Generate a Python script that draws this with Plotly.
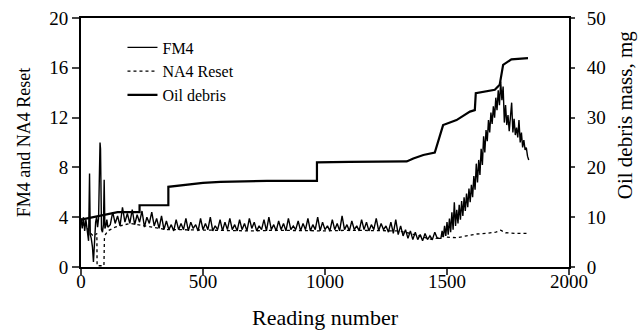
import plotly.graph_objects as go

# ---------------- data ----------------
# FM4 (left axis)
fm4_early_x = [0, 5, 10, 15, 20, 25, 28, 31, 35, 38, 42, 47, 51, 55, 60, 64, 68, 72, 76, 78,
               80, 84, 88, 92, 95, 98, 102, 106, 110]
fm4_early_y = [3.9, 3.1, 4.0, 2.9, 3.8, 3.0, 2.6, 2.1, 7.5, 2.6, 2.3, 1.6, 0.4, 2.2, 3.6, 4.0,
               3.2, 3.9, 9.6, 10.0, 9.5, 3.0, 2.8, 3.4, 7.0, 3.1, 3.3, 3.8, 3.2]
fm4_mid_x = list(range(120, 1461, 10))
fm4_mid_y = [3.4, 4.4, 3.5, 4.1, 3.3, 4.8, 3.6, 4.3, 3.5, 4.6, 3.4, 4.2, 3.6, 4.5, 3.2, 4.0, 3.5, 4.4, 3.3, 3.9, 3.1, 4.1,
             3.0, 3.7, 3.0, 3.4, 2.9, 3.8, 3.0, 3.5, 3.0, 3.9, 2.9, 3.6, 3.1, 3.4, 2.9, 3.9, 3.0, 3.5, 3.0, 4.0, 2.9, 3.3, 3.0, 3.8, 2.9, 3.6, 3.0,
             3.9, 3.0, 3.4, 2.9, 3.8, 3.0, 3.5, 2.9, 3.9, 3.1, 3.6, 2.9, 3.3, 3.0, 3.8, 2.9, 4.0, 3.0, 3.4, 2.9, 3.7, 3.0, 3.5, 2.9, 3.9, 3.0, 3.3, 3.0, 3.7, 2.9,
             3.5, 3.0, 3.9, 2.9, 3.4, 3.0, 4.0, 2.9, 3.6, 3.0, 3.3, 2.9, 3.8, 3.0, 3.5, 2.9, 4.1, 3.0, 3.4, 2.9, 3.7, 3.0, 3.3, 2.9, 3.8, 3.0, 3.6, 2.9, 3.4, 3.0,
             3.9, 2.9, 3.5, 3.0, 3.3, 2.8, 3.6, 2.7, 3.8, 2.6, 3.3, 2.5, 3.0, 2.3, 2.9, 2.2, 2.8, 2.2, 2.6, 2.1, 2.7, 2.2, 2.5, 2.2, 2.8, 2.3]
fm4_late_x = list(range(1475, 1836, 5))
fm4_late_y = [2.3, 2.9, 2.4, 3.3, 2.5, 3.6, 2.6, 3.9, 2.8, 4.4, 3.0, 5.2, 3.3, 4.6, 3.5, 5.0, 3.8, 5.3, 4.1, 5.6,
              4.5, 5.9, 4.8, 6.3, 5.2, 6.6, 5.6, 7.3, 6.2, 8.3, 6.8, 8.6, 7.4, 9.5, 8.2, 10.5, 9.2, 11.0, 10.1, 11.8,
              10.8, 12.4, 11.5, 12.9, 12.0, 13.6, 12.6, 14.2, 13.0, 14.9, 13.4, 14.5, 11.6, 13.0, 11.4, 12.2, 10.9, 12.0, 13.2, 10.8,
              11.9, 10.6, 11.2, 10.4, 11.8, 10.0, 10.8, 9.6, 10.2, 9.4, 9.6, 8.9, 8.6]

# NA4 Reset (left axis)
na4_early_x = [0, 10, 20, 30, 40, 50, 60, 65, 66, 94, 96, 100, 110, 120, 140, 160, 180, 200, 230,
               260, 300, 350, 400, 500, 600, 700, 800, 900, 1000, 1100, 1200, 1300, 1350, 1400, 1440, 1470]
na4_early_y = [3.9, 3.4, 3.2, 3.0, 2.7, 2.5, 2.6, 2.7, 0.1, 0.1, 2.3, 2.6, 2.9, 3.0, 3.2, 3.3, 3.4, 3.5, 3.4,
               3.3, 3.2, 3.0, 3.0, 2.95, 2.95, 2.9, 2.95, 2.9, 2.9, 2.95, 2.9, 2.9, 2.7, 2.4, 2.2, 2.4]
na4_late_x = [1480, 1500, 1540, 1580, 1620, 1660, 1700, 1720, 1740, 1780, 1826]
na4_late_y = [2.5, 2.4, 2.35, 2.5, 2.65, 2.7, 2.8, 2.95, 2.75, 2.7, 2.7]

# Oil debris mass, mg (right axis)
oil_x = [0, 30, 60, 100, 150, 200, 240, 240, 358, 358, 407, 500, 571, 762, 967, 967, 1100, 1335,
         1362, 1403, 1450, 1484, 1512, 1539, 1594, 1614, 1618, 1696, 1716, 1730, 1764, 1832]
oil_y = [9.5, 9.8, 10.0, 10.5, 11.0, 11.0, 11.0, 12.4, 12.4, 16.1, 16.4, 16.9, 17.1, 17.3, 17.3, 21.0,
         21.1, 21.2, 21.8, 22.5, 23.0, 28.5, 29.0, 29.5, 31.2, 31.5, 34.9, 35.6, 36.6, 40.6, 41.7, 41.95]

x_ticks = [0, 500, 1000, 1500, 2000]
y_ticks = [0, 4, 8, 12, 16, 20]
y2_ticks = [0, 10, 20, 30, 40, 50]

# ---------------- figure ----------------
FONT = "Liberation Serif"
fig = go.Figure()
fig.add_trace(go.Scatter(x=fm4_early_x + fm4_mid_x + fm4_late_x,
                         y=fm4_early_y + fm4_mid_y + fm4_late_y,
                         mode="lines", name="FM4", line=dict(color="black", width=1.4)))
fig.add_trace(go.Scatter(x=na4_early_x + na4_late_x, y=na4_early_y + na4_late_y,
                         mode="lines", name="NA4 Reset",
                         line=dict(color="black", width=1.3, dash="dot")))
fig.add_trace(go.Scatter(x=oil_x, y=oil_y, mode="lines", name="Oil debris", yaxis="y2",
                         line=dict(color="black", width=2.2)))

fig.update_layout(
    width=644, height=330,
    margin=dict(l=81, r=75, t=18, b=63, autoexpand=False),
    paper_bgcolor="white", plot_bgcolor="white",
    font=dict(family=FONT, color="black", size=19),
    showlegend=True,
    legend=dict(x=0.085, y=0.95, xanchor="left", yanchor="top",
                bgcolor="rgba(0,0,0,0)", font=dict(size=16, family=FONT),
                tracegroupgap=0),
    xaxis=dict(range=[0, 2000], tickvals=x_ticks, ticks="outside", ticklen=6, tickwidth=2,
               showline=True, linewidth=2, linecolor="black", mirror=True,
               showgrid=False, zeroline=False, automargin=False,
               ticklabelstandoff=-10,
               tickfont=dict(size=19, family=FONT),
               title=dict(text="Reading number", font=dict(size=22, family=FONT), standoff=20)),
    yaxis=dict(range=[0, 20], tickvals=y_ticks, ticks="outside", ticklen=7, tickwidth=2,
               showline=True, linewidth=2, linecolor="black",
               showgrid=False, zeroline=False, automargin=False,
               tickfont=dict(size=19, family=FONT),
               title=dict(text="FM4 and NA4 Reset", font=dict(size=18, family=FONT), standoff=14)),
    yaxis2=dict(range=[0, 50], tickvals=y2_ticks, overlaying="y", side="right",
                ticks="outside", ticklen=4, tickwidth=2, ticklabelstandoff=8,
                showline=True, linewidth=2, linecolor="black",
                showgrid=False, zeroline=False, automargin=False,
                tickfont=dict(size=19, family=FONT)),
    annotations=[dict(text="Oil debris mass, mg", textangle=-90, showarrow=False,
                      xref="paper", yref="paper", x=1.115, y=0.61,
                      xanchor="center", yanchor="middle",
                      font=dict(size=21, family=FONT, color="black"))],
)

fig.write_html("out.html")
